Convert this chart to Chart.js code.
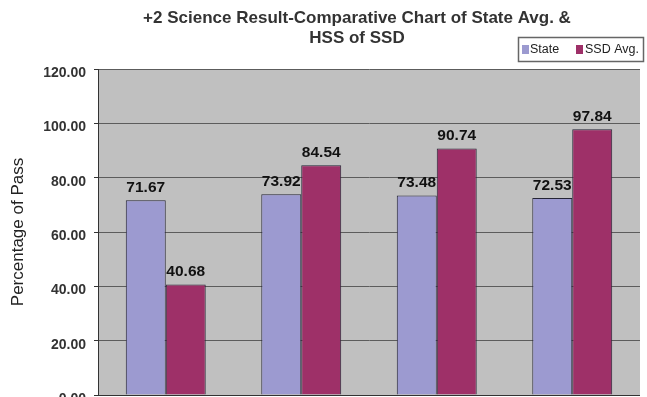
<!DOCTYPE html>
<html>
<head>
<meta charset="utf-8">
<script src="https://cdn.jsdelivr.net/npm/chart.js@4.4.0/dist/chart.umd.min.js"></script>
<style>
  html, body { margin: 0; padding: 0; background: #ffffff; }
  #wrap { width: 647px; height: 397px; }
</style>
</head>
<body>
<div id="wrap"><canvas id="c" width="647" height="397"></canvas></div>
<script>
// Data
const categories = ['1', '2', '3', '4'];
const stateAvg = [71.67, 73.92, 73.48, 72.53];
const ssdAvg = [40.68, 84.54, 90.74, 97.84];
const seriesNames = ['State', 'SSD Avg.'];
const seriesColors = ['#9c9ad0', '#9e3068'];
const yTicks = [0, 20, 40, 60, 80, 100, 120];
const titleLines = ['+2 Science Result-Comparative Chart of State Avg. &', 'HSS of SSD'];
const yTitle = 'Percentage of Pass';

const FONT = 'Arial, "Liberation Sans", Helvetica, sans-serif';

// Gray plot panel, bottom axis line, value labels, title and boxed legend
const decorations = {
  id: 'decorations',
  beforeDraw(chart) {
    const { ctx, chartArea: a } = chart;
    ctx.save();
    ctx.fillStyle = '#c0c0c0';
    ctx.fillRect(a.left, a.top, a.right - a.left, a.bottom - a.top);
    ctx.restore();
  },
  afterDatasetsDraw(chart) {
    const { ctx, chartArea: a } = chart;
    ctx.save();
    // value labels above bars
    ctx.font = 'bold 15.5px ' + FONT;
    ctx.fillStyle = '#111111';
    ctx.textAlign = 'center';
    ctx.textBaseline = 'alphabetic';
    chart.data.datasets.forEach((ds, di) => {
      const meta = chart.getDatasetMeta(di);
      meta.data.forEach((bar, i) => {
        ctx.fillText(ds.data[i].toFixed(2), bar.x, bar.y - 8);
      });
    });
    // bottom axis line
    ctx.strokeStyle = '#333333';
    ctx.lineWidth = 1;
    ctx.beginPath();
    ctx.moveTo(a.left, Math.round(a.bottom) + 0.5);
    ctx.lineTo(a.right, Math.round(a.bottom) + 0.5);
    ctx.stroke();
    ctx.restore();
  },
  afterDraw(chart) {
    const { ctx } = chart;
    ctx.save();
    // title
    ctx.font = 'bold 17px ' + FONT;
    ctx.fillStyle = '#333333';
    ctx.textAlign = 'center';
    ctx.textBaseline = 'alphabetic';
    ctx.fillText(titleLines[0], 357, 23);
    ctx.fillText(titleLines[1], 357, 43);

    // legend box
    ctx.strokeStyle = '#666666';
    ctx.lineWidth = 1.5;
    ctx.fillStyle = '#ffffff';
    ctx.fillRect(518, 37, 126, 25);
    ctx.strokeRect(518.5, 37.5, 125, 24);
    const items = [
      { sx: 522, tx: 530 },
      { sx: 576, tx: 585 }
    ];
    ctx.font = '12.5px ' + FONT;
    ctx.textAlign = 'left';
    ctx.textBaseline = 'middle';
    chart.data.datasets.forEach((ds, i) => {
      ctx.fillStyle = ds.backgroundColor;
      ctx.fillRect(items[i].sx, 45, 7, 9);
      ctx.fillStyle = '#222222';
      ctx.fillText(ds.label, items[i].tx, 50);
    });
    ctx.restore();
  }
};

new Chart(document.getElementById('c'), {
  type: 'bar',
  data: {
    labels: categories,
    datasets: [
      {
        label: seriesNames[0],
        data: stateAvg,
        backgroundColor: seriesColors[0],
        borderColor: '#252535',
        borderWidth: 1
      },
      {
        label: seriesNames[1],
        data: ssdAvg,
        backgroundColor: seriesColors[1],
        borderColor: '#252535',
        borderWidth: 1
      }
    ]
  },
  options: {
    responsive: false,
    animation: false,
    devicePixelRatio: 1,
    layout: { padding: { left: 0, top: 69, right: 7, bottom: 2 } },
    datasets: {
      bar: { categoryPercentage: 0.59, barPercentage: 1.0 }
    },
    plugins: {
      legend: { display: false },
      title: { display: false },
      tooltip: { enabled: false }
    },
    scales: {
      x: { display: false },
      y: {
        min: yTicks[0],
        max: yTicks[yTicks.length - 1],
        afterFit(scale) {
          scale.width = 98;
          scale.paddingTop = 0;
          scale.paddingBottom = 0;
        },
        afterBuildTicks(scale) { scale.ticks = yTicks.map(v => ({ value: v })); },
        ticks: {
          stepSize: 20,
          padding: 8,
          labelOffset: 4,
          color: '#333333',
          font: { family: FONT, size: 14, weight: 'bold' },
          callback: (v) => Number(v).toFixed(2)
        },
        grid: {
          color: '#5c5c5c',
          lineWidth: 1,
          tickLength: 4,
          tickColor: '#333333',
          drawTicks: true
        },
        border: { display: true, color: '#333333', width: 1 },
        title: {
          display: true,
          text: yTitle,
          color: '#222222',
          font: { family: FONT, size: 17, weight: 'normal' },
          padding: { top: 8, bottom: 0 }
        }
      }
    }
  },
  plugins: [decorations]
});
</script>
</body>
</html>
